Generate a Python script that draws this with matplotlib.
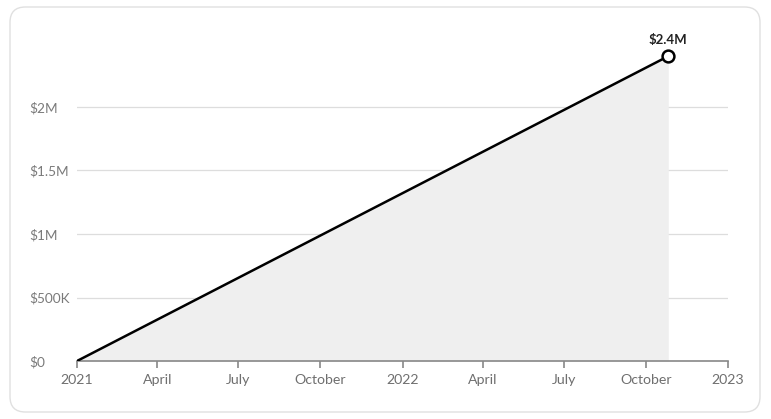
import matplotlib
matplotlib.use("Agg")
import matplotlib.pyplot as plt
from matplotlib.patches import FancyBboxPatch
import datetime as dt

dates = [dt.date(2021, 1, 1), dt.date(2022, 10, 26)]
values = [0, 2_400_000]
ytick_vals = [0, 500_000, 1_000_000, 1_500_000, 2_000_000]
ytick_labels = ["$0", "$500K", "$1M", "$1.5M", "$2M"]
xtick_dates = [dt.date(2021, 1, 1), dt.date(2021, 4, 1), dt.date(2021, 7, 1), dt.date(2021, 10, 1),
               dt.date(2022, 1, 1), dt.date(2022, 4, 1), dt.date(2022, 7, 1), dt.date(2022, 10, 1),
               dt.date(2023, 1, 1)]
xtick_labels = ["2021", "April", "July", "October", "2022", "April", "July", "October", "2023"]
end_label = "$2.4M"

plt.rcParams['font.family'] = ['Lato', 'DejaVu Sans']

W, H = 771, 419
fig = plt.figure(figsize=(W / 100, H / 100), dpi=100)
fig.patch.set_facecolor("white")

box = FancyBboxPatch((10 / W, 7 / H), 750 / W, 405 / H,
                     boxstyle="round,pad=0,rounding_size=0.02",
                     transform=fig.transFigure, facecolor="none",
                     edgecolor="#e0e0e0", linewidth=1.0, mutation_aspect=W / H, zorder=-5)
fig.patches.append(box)

ax = fig.add_axes([77 / W, 1 - 361 / H, (728 - 77) / W, (361 - 30.8) / H])
ax.set_facecolor("none")
ax.set_zorder(2)

ax.fill_between(dates, values, 0, color="#efefef", zorder=1, linewidth=0)
ax.plot(dates, values, color="black", linewidth=1.8, zorder=3)
ax.plot([dates[-1]], [values[-1]], marker="o", markersize=8.5, markerfacecolor="white",
        markeredgecolor="black", markeredgewidth=1.8, zorder=4)
ax.annotate(end_label, (dates[-1], values[-1]), xytext=(0, 7), textcoords="offset points",
            ha="center", va="bottom", fontsize=9.5, fontweight="bold", color="#222222")

ax.set_xlim(xtick_dates[0], xtick_dates[-1])
ax.set_ylim(0, 2_600_000)

ax.set_yticks(ytick_vals)
ax.set_yticklabels(ytick_labels)
ax.set_xticks(xtick_dates)
ax.set_xticklabels(xtick_labels)

for v in ytick_vals[1:]:
    ax.axhline(v, color="#dddddd", linewidth=0.9, zorder=0)

for s in ["top", "right", "left"]:
    ax.spines[s].set_visible(False)
ax.spines["bottom"].set_color("#888888")
ax.spines["bottom"].set_linewidth(1.2)
ax.spines["bottom"].set_zorder(2)

ax.tick_params(axis="y", length=0, pad=34, labelsize=9.8, labelcolor="#7a7a7a")
for lab in ax.get_yticklabels():
    lab.set_horizontalalignment("left")
ax.tick_params(axis="x", length=5, width=1.2, color="#888888", pad=4,
               labelsize=10.2, labelcolor="#6f6f6f")

fig.savefig("out.png", dpi=100)
